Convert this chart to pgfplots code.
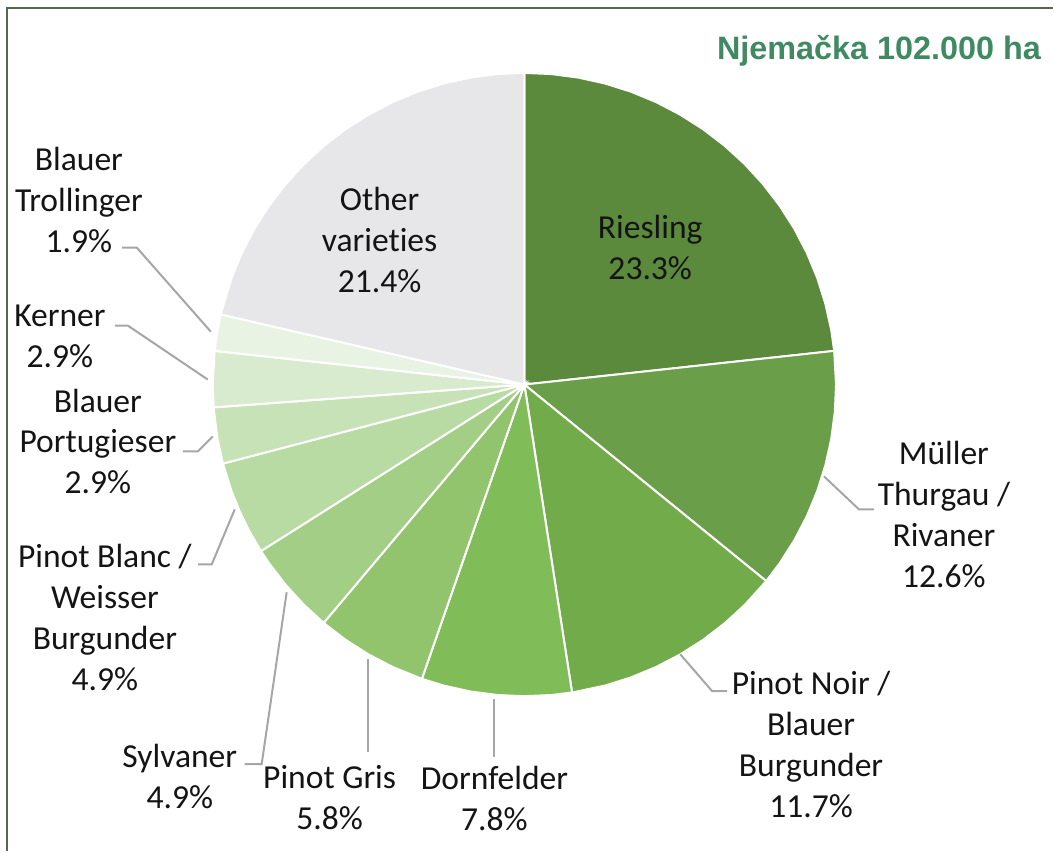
\documentclass[border=0pt]{standalone}
\usepackage{fontspec}
\setmainfont{Carlito}[Ligatures=NoCommon]
\newfontfamily\titlefont{Liberation Sans}
\usepackage{pgfplots}
\usepgfplotslibrary{polar}
\pgfplotsset{compat=1.18}

\definecolor{cRies}{HTML}{5C8A3C}
\definecolor{cMuel}{HTML}{6A9E48}
\definecolor{cPNoir}{HTML}{71AB4A}
\definecolor{cDorn}{HTML}{80BC58}
\definecolor{cPGris}{HTML}{92C46E}
\definecolor{cSylv}{HTML}{A3CE86}
\definecolor{cPBlanc}{HTML}{B8DAA3}
\definecolor{cPort}{HTML}{C8E2B8}
\definecolor{cKern}{HTML}{D9EBCE}
\definecolor{cTroll}{HTML}{E9F3E3}
\definecolor{cOther}{HTML}{E7E6E8}
\definecolor{leader}{HTML}{A6A6A6}
\definecolor{frame}{HTML}{55694A}
\definecolor{titlegreen}{HTML}{3F8A62}

\tikzset{lbl/.style={font=\fontsize{16.8}{20.5}\selectfont, align=center, text=black!92, inner sep=0pt}}

\begin{document}
\begin{tikzpicture}
\begin{axis}[
    scale only axis,
    width=527pt, height=426pt,
    xmin=-525, xmax=529,
    ymin=-467, ymax=385,
    hide axis,
    clip=false,
]
\path (rel axis cs:0,0) rectangle (rel axis cs:1,1);

% slices: (angle, radius), clockwise from 12 o'clock
\addplot[data cs=polar, fill=cRies, draw=white, line width=1pt] coordinates {
    (0,0) (90,312) (85,312) (80,312) (75,312) (70,312) (65,312) (60,312) (55,312) (50,312)
    (45,312) (40,312) (35,312) (30,312) (25,312) (20,312) (15,312) (10,312) (6.2,312) (0,0)} -- cycle;
\addplot[data cs=polar, fill=cMuel, draw=white, line width=1pt] coordinates {
    (0,0) (6.2,312) (0,312) (-5,312) (-10,312) (-15,312) (-20,312) (-25,312) (-30,312) (-35,312) (-39.1,312) (0,0)} -- cycle;
\addplot[data cs=polar, fill=cPNoir, draw=white, line width=1pt] coordinates {
    (0,0) (-39.1,312) (-45,312) (-50,312) (-55,312) (-60,312) (-65,312) (-70,312) (-75,312) (-81.2,312) (0,0)} -- cycle;
\addplot[data cs=polar, fill=cDorn, draw=white, line width=1pt] coordinates {
    (0,0) (-81.2,312) (-85,312) (-90,312) (-95,312) (-100,312) (-105,312) (-109.2,312) (0,0)} -- cycle;
\addplot[data cs=polar, fill=cPGris, draw=white, line width=1pt] coordinates {
    (0,0) (-109.2,312) (-115,312) (-120,312) (-125,312) (-130.1,312) (0,0)} -- cycle;
\addplot[data cs=polar, fill=cSylv, draw=white, line width=1pt] coordinates {
    (0,0) (-130.1,312) (-135,312) (-140,312) (-145,312) (-147.7,312) (0,0)} -- cycle;
\addplot[data cs=polar, fill=cPBlanc, draw=white, line width=1pt] coordinates {
    (0,0) (-147.7,312) (-152,312) (-156,312) (-160,312) (-165.3,312) (0,0)} -- cycle;
\addplot[data cs=polar, fill=cPort, draw=white, line width=1pt] coordinates {
    (0,0) (-165.3,312) (-170,312) (-175.8,312) (0,0)} -- cycle;
\addplot[data cs=polar, fill=cKern, draw=white, line width=1pt] coordinates {
    (0,0) (-175.8,312) (-180,312) (-186.2,312) (0,0)} -- cycle;
\addplot[data cs=polar, fill=cTroll, draw=white, line width=1pt] coordinates {
    (0,0) (-186.2,312) (-190,312) (-193.0,312) (0,0)} -- cycle;
\addplot[data cs=polar, fill=cOther, draw=white, line width=1pt] coordinates {
    (0,0) (-193.0,312) (-200,312) (-205,312) (-210,312) (-215,312) (-220,312) (-225,312) (-230,312)
    (-235,312) (-240,312) (-245,312) (-250,312) (-255,312) (-260,312) (-265,312) (-270,312) (0,0)} -- cycle;

% leader lines
\addplot[leader, line width=1pt] coordinates {(300,-92) (335,-125) (350,-125)};
\addplot[leader, line width=1pt] coordinates {(156,-270) (188,-307) (203,-307)};
\addplot[leader, line width=1pt] coordinates {(-30,-315) (-30,-373)};
\addplot[leader, line width=1pt] coordinates {(-157,-275) (-157,-368)};
\addplot[leader, line width=1pt] coordinates {(-238,-208) (-263,-380) (-280,-380)};
\addplot[leader, line width=1pt] coordinates {(-290,-125) (-313,-180) (-327,-180)};
\addplot[leader, line width=1pt] coordinates {(-312,-52) (-327,-67) (-342,-67)};
\addplot[leader, line width=1pt] coordinates {(-410,59) (-397,59) (-317,5)};
\addplot[leader, line width=1pt] coordinates {(-403,137) (-388,137) (-314,53)};

% frame (top and left edges)
\addplot[frame, line width=1.25pt] coordinates {(529,377) (-518,377) (-518,-467)};

% labels
\node[lbl] at (axis cs:126,137) {Riesling\\23.3\%};
\node[lbl] at (axis cs:-145,145) {Other\\varieties\\21.4\%};
\node[lbl] at (axis cs:-446,185) {Blauer\\Trollinger\\1.9\%};
\node[lbl] at (axis cs:-465,48) {Kerner\\2.9\%};
\node[lbl] at (axis cs:-427,-57) {Blauer\\Portugieser\\2.9\%};
\node[lbl] at (axis cs:-420,-233) {Pinot Blanc /\\Weisser\\Burgunder\\4.9\%};
\node[lbl] at (axis cs:-345,-392) {Sylvaner\\4.9\%};
\node[lbl] at (axis cs:-195,-414) {Pinot Gris\\5.8\%};
\node[lbl] at (axis cs:-30,-414) {Dornfelder\\7.8\%};
\node[lbl] at (axis cs:287,-360) {Pinot Noir /\\Blauer\\Burgunder\\11.7\%};
\node[lbl] at (axis cs:420,-130) {Müller\\Thurgau /\\Rivaner\\12.6\%};

\node[anchor=base, font=\titlefont\bfseries\fontsize{16.2}{19}\selectfont, text=titlegreen] at (axis cs:355,325) {Njemačka 102.000 ha};
\end{axis}
\end{tikzpicture}
\end{document}
